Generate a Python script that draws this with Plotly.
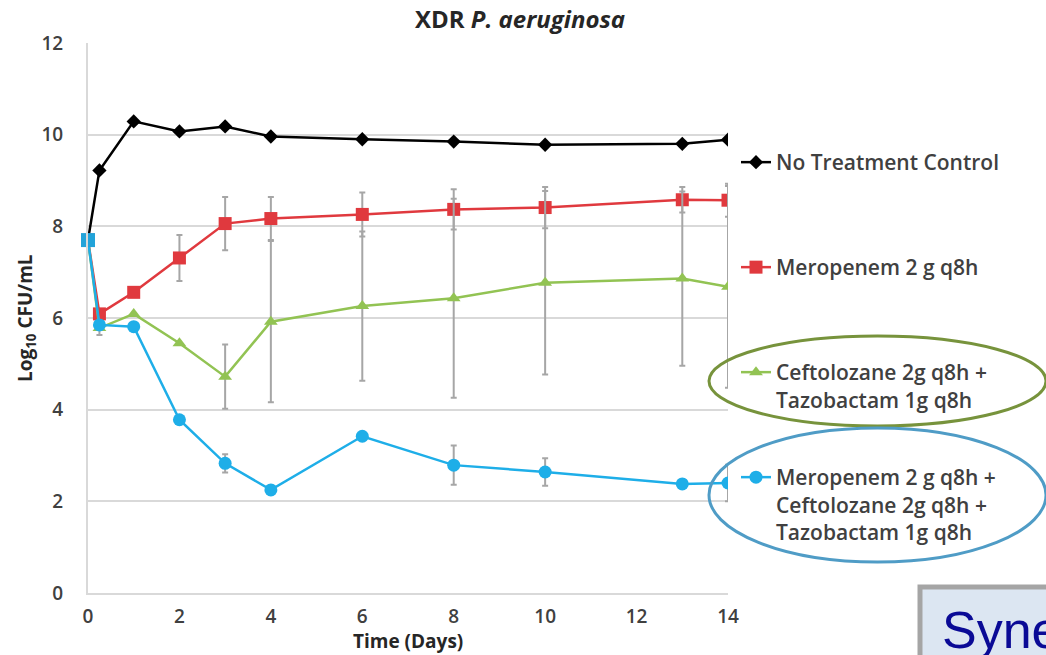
import plotly.graph_objects as go

# ---- data ----
days = [0, 0.25, 1, 2, 3, 4, 6, 8, 10, 13, 14]
no_treatment = [7.7, 9.22, 10.29, 10.07, 10.18, 9.96, 9.90, 9.85, 9.78, 9.80, 9.89]
meropenem = [7.7, 6.09, 6.56, 7.31, 8.06, 8.17, 8.26, 8.37, 8.41, 8.58, 8.57]
meropenem_err = [0, 0, 0, 0.50, 0.58, 0.47, 0.48, 0.44, 0.45, 0.28, 0.36]
ceftolozane = [7.7, 5.78, 6.09, 5.45, 4.72, 5.92, 6.26, 6.43, 6.77, 6.86, 6.68]
ceftolozane_err = [0, 0.15, 0, 0, 0.70, 1.76, 1.63, 2.17, 2.00, 1.90, 2.20]
combination = [7.7, 5.85, 5.81, 3.78, 2.83, 2.25, 3.42, 2.79, 2.64, 2.38, 2.40]
combination_err = [0, 0, 0, 0, 0.20, 0, 0, 0.43, 0.30, 0, 0.40]
inoculum_day = [0]
inoculum = [7.7]

names = [
    "No Treatment Control",
    "Meropenem 2 g q8h",
    "Ceftolozane 2g q8h +<br>Tazobactam 1g q8h",
    "Meropenem 2 g q8h +<br>Ceftolozane 2g q8h +<br>Tazobactam 1g q8h",
]
x_ticks = [0, 2, 4, 6, 8, 10, 12, 14]
y_ticks = [0, 2, 4, 6, 8, 10, 12]

# ---- geometry helpers (pixel -> paper) ----
W, H = 1046, 655
L, R, T, B = 88, 728, 43, 593
def px(xp):
    return (xp - L) / (R - L)
def py(yp):
    return (B - yp) / (B - T)

ERR_COLOR = "#a6a6a6"
BLACK, RED, GREEN, BLUE = "#000000", "#e0393e", "#92c353", "#1eaee8"
TXT = "#404040"
FONT = "Open Sans"

fig = go.Figure()

fig.add_trace(go.Scatter(
    x=days, y=no_treatment, name=names[0], mode="lines+markers",
    line=dict(color=BLACK, width=2.5),
    marker=dict(symbol="diamond", size=11, color=BLACK),
    legend="legend",
))
fig.add_trace(go.Scatter(
    x=days, y=meropenem, name=names[1], mode="lines+markers",
    line=dict(color=RED, width=2.5),
    marker=dict(symbol="square", size=13, color=RED),
    error_y=dict(type="data", array=meropenem_err, color=ERR_COLOR, thickness=2, width=3),
    legend="legend2",
))
fig.add_trace(go.Scatter(
    x=days, y=ceftolozane, name=names[2], mode="lines+markers",
    line=dict(color=GREEN, width=2.5),
    marker=dict(symbol="triangle-up", size=12, color=GREEN),
    error_y=dict(type="data", array=ceftolozane_err, color=ERR_COLOR, thickness=2, width=3),
    legend="legend3",
))
fig.add_trace(go.Scatter(
    x=days, y=combination, name=names[3], mode="lines+markers",
    line=dict(color=BLUE, width=2.5),
    marker=dict(symbol="circle", size=13, color=BLUE),
    error_y=dict(type="data", array=combination_err, color=ERR_COLOR, thickness=2, width=3),
    legend="legend4",
))
fig.add_trace(go.Scatter(
    x=inoculum_day, y=inoculum, mode="markers", showlegend=False,
    marker=dict(symbol="square", size=14, color="#22a3d9"),
    cliponaxis=False,
))

leg_font = dict(family=FONT, size=21, color=TXT, weight=600)
def legend_at(ytop):
    return dict(x=px(736), xanchor="left", y=py(ytop), yanchor="top",
                font=leg_font, bgcolor="rgba(0,0,0,0)", borderwidth=0,
                valign="top", itemwidth=30, tracegroupgap=0)

tick_font = dict(family=FONT, size=19, color="#404040", weight=600)

fig.update_layout(
    width=W, height=H,
    margin=dict(l=L, r=W - R, t=T, b=H - B),
    paper_bgcolor="white", plot_bgcolor="white",
    font=dict(family=FONT, color=TXT),
    legend=legend_at(142),
    legend2=legend_at(247),
    legend3=legend_at(352),
    legend4=legend_at(457),
    xaxis=dict(
        range=[0, 14], tickvals=x_ticks, ticktext=[str(v) for v in x_ticks],
        showgrid=False, zeroline=False, showline=True, linecolor="#d9d9d9", linewidth=2,
        ticks="", ticklabelstandoff=5, tickfont=tick_font,
    ),
    yaxis=dict(
        range=[0, 12], tickvals=y_ticks, ticktext=[str(v) for v in y_ticks],
        showgrid=True, gridcolor="#d9d9d9", gridwidth=1.5, zeroline=False,
        showline=True, linecolor="#d9d9d9", linewidth=2,
        ticks="", ticklabelstandoff=19, tickfont=tick_font,
    ),
    annotations=[
        dict(text="<b>XDR <i>P. aeruginosa</i></b>", x=px(520), y=py(18),
             xref="paper", yref="paper", xanchor="center", yanchor="middle",
             showarrow=False, font=dict(family=FONT, size=24, color="#262626")),
        dict(text="<b>Time (Days)</b>", x=px(408), y=py(641),
             xref="paper", yref="paper", xanchor="center", yanchor="middle",
             showarrow=False, font=dict(family=FONT, size=19, color="#262626")),
        dict(text="<b>Log<sub>10</sub> CFU/mL</b>", x=px(26), y=py(318),
             xref="paper", yref="paper", xanchor="center", yanchor="middle",
             textangle=-90, showarrow=False,
             font=dict(family=FONT, size=19, color="#262626")),
        dict(text="Syne", x=px(940), y=py(630),
             xref="paper", yref="paper", xanchor="left", yanchor="middle",
             showarrow=False, font=dict(family="Liberation Sans", size=52, color="#0a0a96")),
    ],
    shapes=[
        dict(type="circle", xref="paper", yref="paper",
             x0=px(709), x1=px(1046), y0=py(426), y1=py(336),
             line=dict(color="#77933c", width=3), layer="above"),
        dict(type="circle", xref="paper", yref="paper",
             x0=px(709), x1=px(1046), y0=py(562), y1=py(428),
             line=dict(color="#4f9cc6", width=3), layer="above"),
        dict(type="rect", xref="paper", yref="paper",
             x0=px(920), x1=px(1060), y0=py(670), y1=py(587),
             line=dict(color="#a5a5a5", width=5), fillcolor="#dce6f2", layer="below"),
    ],
)

fig.write_html("out.html")
